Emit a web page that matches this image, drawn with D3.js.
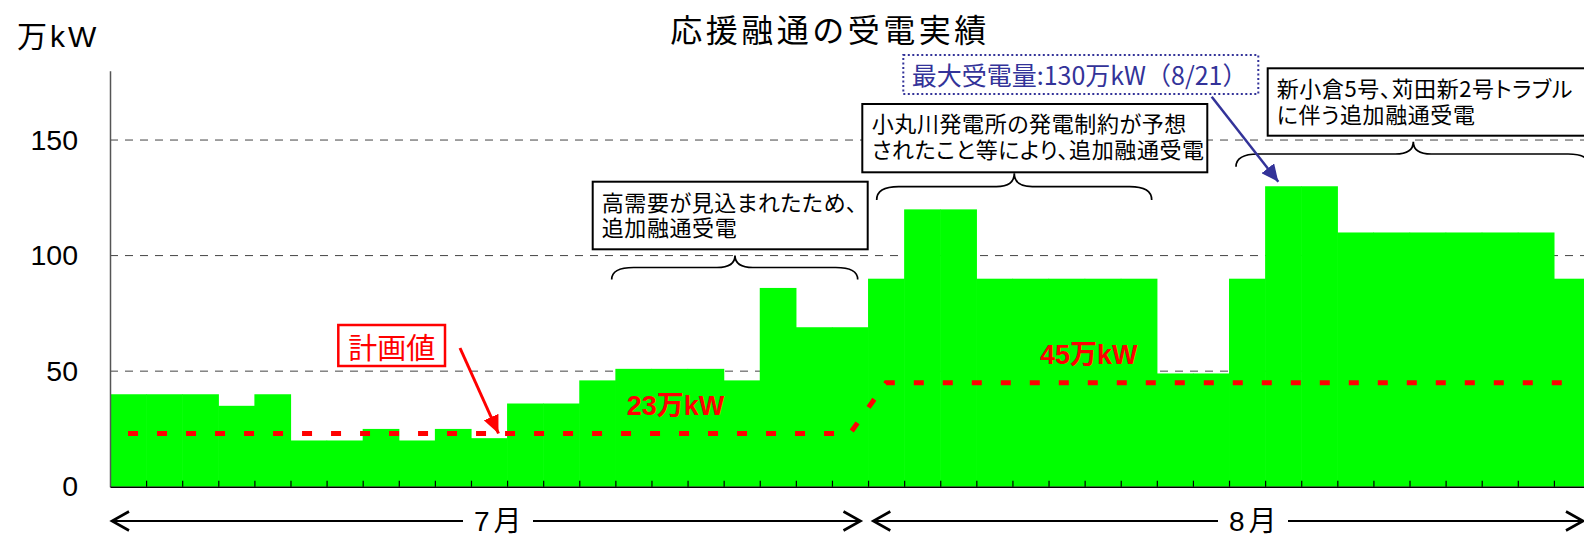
<!DOCTYPE html>
<html><head><meta charset="utf-8">
<script src="https://cdn.jsdelivr.net/npm/d3@7"></script>
<style>
html,body{margin:0;padding:0;background:#fff;}
svg{display:block;}
text{font-family:"Liberation Sans","Noto Sans CJK JP",sans-serif;}
.jp{font-family:"Noto Sans CJK JP","Liberation Sans",sans-serif;}
.palt{font-feature-settings:"palt" 1;}
</style></head>
<body>
<script>
// ---- data ----
const dayIndex = [1,2,3,4,5,6,7,8,9,10,11,12,13,14,15,16,17,18,19,20,21,
                  22,23,24,25,26,27,28,29,30,31,32,33,34,35,36,37,38,39,40,41];
const received = [40,40,40,35,40,20,20,25,20,25,21,36,36,46,51,51,51,46,86,69,69,
                  90,120,120,90,90,90,90,90,49,49,90,130,130,110,110,110,110,110,110,90];
const plan = [23,23,23,23,23,23,23,23,23,23,23,23,23,23,23,23,23,23,23,23,23,
              45,45,45,45,45,45,45,45,45,45,45,45,45,45,45,45,45,45,45,45];
const yTicks = [0,50,100,150];
const months = ["7月","8月"];
const monthDays = [21,20];
const title = "応援融通の受電実績";
const yUnit = "万kW";
const planLabels = ["23万kW","45万kW"];

const W = 1584, H = 536;
const svg = d3.select("body").append("svg").attr("width",W).attr("height",H);

const x = d3.scaleBand().domain(dayIndex).range([110,1590]).padding(0);
const xi = d3.scaleLinear().domain([0,dayIndex.length]).range([110,1590]);
const y = d3.scaleLinear().domain([0,180]).range([486.7,70.7]);

// gridlines
svg.append("g").selectAll("line").data(yTicks.filter(d=>d>0)).join("line")
  .attr("x1",110).attr("x2",1590).attr("y1",d=>y(d)).attr("y2",d=>y(d))
  .attr("stroke","#444").attr("stroke-width",1).attr("stroke-dasharray","8,7");

// bars
svg.append("g").selectAll("rect").data(received).join("rect")
  .attr("x",(d,i)=>x(dayIndex[i]))
  .attr("width",(d,i)=> x.bandwidth() + (i<received.length-1?0.6:0))
  .attr("y",d=>y(d)).attr("height",d=>y(0)-y(d))
  .attr("fill","#00ff00");

// plan line
const planLine = d3.line().x((d,i)=>x(dayIndex[i])+x.bandwidth()/2).y(d=>y(d));
svg.append("path").datum(plan).attr("d",planLine)
  .attr("fill","none").attr("stroke","#ff0000").attr("stroke-width",5)
  .attr("stroke-dasharray","10,19");

// y axis
const yAxis = svg.append("g").attr("transform","translate(110,0)")
  .call(d3.axisLeft(y).tickValues(yTicks).tickSize(0).tickSizeOuter(0).tickPadding(32));
yAxis.select(".domain").attr("stroke","#555").attr("stroke-width",1.5);
yAxis.selectAll("text").attr("font-size",28.5).attr("fill","#000")
  .attr("font-family","Liberation Sans, sans-serif");

// x axis
const xAxis = svg.append("g").attr("transform",`translate(0,${y(0)})`)
  .call(d3.axisBottom(xi).tickValues(d3.range(1,dayIndex.length)).tickSize(-6).tickSizeOuter(0).tickFormat(""));
xAxis.select(".domain").attr("stroke","#000").attr("stroke-width",1.5);
xAxis.selectAll(".tick line").attr("stroke","#000").attr("stroke-width",1.2);

// unit label
svg.append("text").attr("x",17).attr("y",36).attr("dy","0.35em")
  .attr("font-size",30).attr("letter-spacing",3).text(yUnit);

// title
svg.append("text").attr("class","jp").attr("x",830).attr("y",28).attr("dominant-baseline","central")
  .attr("text-anchor","middle").attr("font-size",32).attr("letter-spacing",3.5).text(title);

// month arrows
const ay = 521;
function chevron(xt, dir){
  return `M${xt-dir*17},${ay-9.5} L${xt},${ay} L${xt-dir*17},${ay+9.5}`;
}
const monthInner = [[112,860.5],[873.3,1583]];
const monthCenter = [498,1253];
months.forEach((m,k)=>{
  const [a,b] = monthInner[k];
  const cx = monthCenter[k];
  const g = svg.append("g").attr("stroke","#000").attr("fill","none").attr("stroke-width",2.2);
  g.append("line").attr("x1",a).attr("x2",cx-35).attr("y1",ay).attr("y2",ay);
  g.append("line").attr("x1",cx+35).attr("x2",b).attr("y1",ay).attr("y2",ay);
  g.append("path").attr("d",chevron(a,-1)).attr("stroke-width",2.6);
  g.append("path").attr("d",chevron(b,1)).attr("stroke-width",2.6);
  svg.append("text").attr("x",cx-24).attr("y",ay).attr("dy","0.36em")
    .attr("font-size",28).attr("letter-spacing",4).text(m);
});

// braces
function brace(x0,x1,xc,yTop,yMid,yEnd){
  return `M${x0},${yEnd} Q${x0},${yMid} ${x0+22},${yMid} L${xc-18},${yMid} Q${xc},${yMid} ${xc},${yTop}`+
         ` Q${xc},${yMid} ${xc+18},${yMid} L${x1-22},${yMid} Q${x1},${yMid} ${x1},${yEnd}`;
}
const braces = [[611.7,857.7,735,255.5,267.5,279.5],[876.7,1151.7,1014.3,173.3,186.7,200],[1236,1590,1413.3,141.7,154,166.7]];
svg.append("g").selectAll("path").data(braces).join("path")
  .attr("d",d=>brace(...d)).attr("fill","none").attr("stroke","#000").attr("stroke-width",1.7);

// annotation boxes
const boxes = [
  {x:592.7,y:181.7,w:275,h:67.6,tx:601.7,lines:["高需要が見込まれたため、","追加融通受電"],ly:203},
  {x:862.3,y:104,w:345,h:68.3,tx:871.7,lines:["小丸川発電所の発電制約が予想","されたこと等により、追加融通受電"],ly:124.5},
  {x:1267.7,y:68.3,w:340,h:67.4,tx:1276.7,lines:["新小倉5号、苅田新2号トラブル","に伴う追加融通受電"],ly:89.5}
];
boxes.forEach(b=>{
  svg.append("rect").attr("x",b.x).attr("y",b.y).attr("width",b.w).attr("height",b.h)
    .attr("fill","#fff").attr("stroke","#000").attr("stroke-width",2);
  const t = svg.append("text").attr("class","jp palt").attr("font-size",22).attr("letter-spacing",0.6);
  b.lines.forEach((s,i)=>{
    t.append("tspan").attr("x",b.tx).attr("y",b.ly + i*25.5).attr("dy","0.36em").text(s);
  });
});

// markers
const defs = svg.append("defs");
function marker(id,color,len,half){
  defs.append("marker").attr("id",id).attr("viewBox",`0 0 ${len} ${half*2}`)
    .attr("refX",len).attr("refY",half).attr("markerWidth",len).attr("markerHeight",half*2)
    .attr("markerUnits","userSpaceOnUse").attr("orient","auto")
    .append("path").attr("d",`M0,0 L${len},${half} L0,${half*2} Z`).attr("fill",color);
}
marker("mr","#ff0000",18,8);
marker("mb","#333399",17,8);

// max box
svg.append("rect").attr("x",903.3).attr("y",55).attr("width",355).attr("height",39)
  .attr("fill","#fff").attr("stroke","#333399").attr("stroke-width",2).attr("stroke-dasharray","2,2.5");
svg.append("text").attr("class","jp").attr("x",911.7).attr("y",74).attr("dominant-baseline","central")
  .attr("font-size",25).attr("fill","#333399").text("最大受電量:130万kW（8/21）");
svg.append("line").attr("x1",1211.7).attr("y1",96.7).attr("x2",1278.3).attr("y2",181.7)
  .attr("stroke","#333399").attr("stroke-width",2.5).attr("marker-end","url(#mb)");

// plan label box
svg.append("rect").attr("x",338.3).attr("y",325).attr("width",106.7).attr("height",41)
  .attr("fill","#fff").attr("stroke","#ff0000").attr("stroke-width",2.5);
svg.append("text").attr("class","jp").attr("x",391.7).attr("y",345.5).attr("dominant-baseline","central")
  .attr("text-anchor","middle").attr("font-size",29).attr("fill","#ff0000").text("計画値");
svg.append("line").attr("x1",460).attr("y1",348).attr("x2",498.5).attr("y2",433.5)
  .attr("stroke","#ff0000").attr("stroke-width",3).attr("marker-end","url(#mr)");

// plan value labels
[[626.7,405.5],[1040,354.5]].forEach((p,i)=>{
  svg.append("text").attr("x",p[0]).attr("y",p[1]).attr("dy","0.36em")
    .attr("font-size",27).attr("font-weight","bold").attr("fill","#ff0000").text(planLabels[i]);
});
</script>
</body></html>
